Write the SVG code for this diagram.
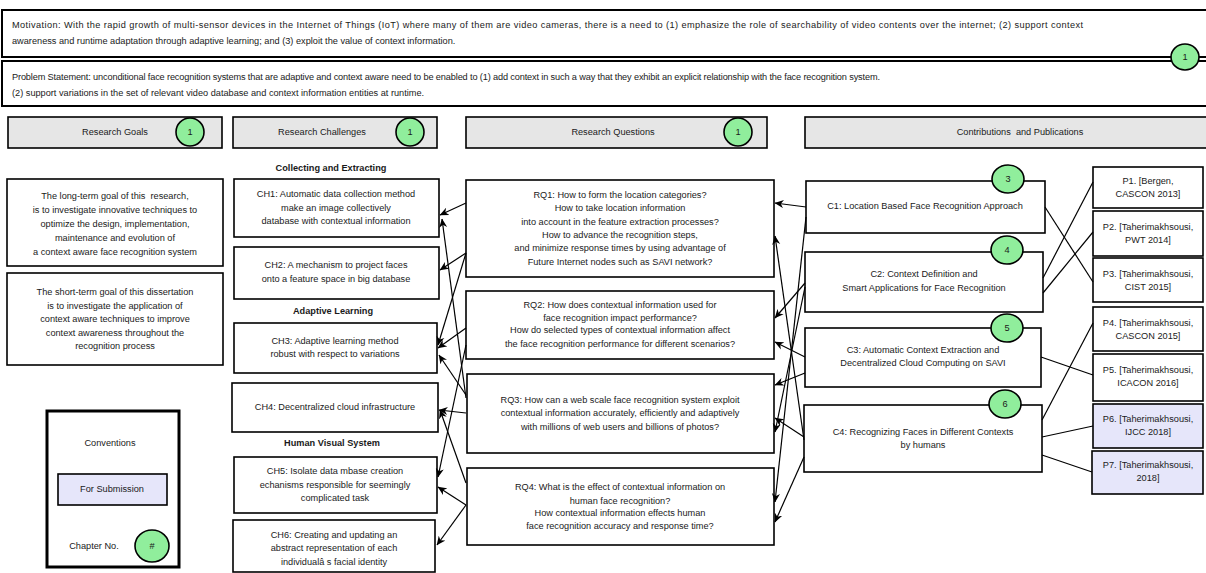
<svg xmlns="http://www.w3.org/2000/svg" width="1206" height="573" viewBox="0 0 1206 573">
<defs>
<style>
text{font-family:"Liberation Sans",Arial,sans-serif;font-size:9.2px;fill:#1a1a1a;text-anchor:middle}
.l{text-anchor:start}
.b{font-weight:bold}
.pre{white-space:pre}
.box{fill:#fff;stroke:#000;stroke-width:1.6}
.top{fill:#fff;stroke:#000;stroke-width:2}
.hdr{fill:#e6e6e6;stroke:#000;stroke-width:1.6}
.sub{fill:#e6e6fa;stroke:#000;stroke-width:1.6}
.ch{fill:#90ee9c;stroke:#000;stroke-width:1.6}
.con path{fill:none;stroke:#000;stroke-width:1.2}
.arr{marker-end:url(#ah)}
</style>
<marker id="ah" viewBox="0 0 10 10" refX="9.5" refY="5" markerWidth="9" markerHeight="9" markerUnits="userSpaceOnUse" orient="auto">
<path d="M0,0.5 L10,5 L0,9.5 L3,5 Z" fill="#000"/>
</marker>
</defs>

<g id="motivation">
<rect class="top" x="2" y="10" width="1210" height="47"/>
<text class="l" x="12" y="28" textLength="1071" lengthAdjust="spacing">Motivation: With the rapid growth of multi-sensor devices in the Internet of Things (IoT) where many of them are video cameras, there is a need to (1) emphasize the role of searchability of video contents over the internet; (2) support context</text>
<text class="l" x="12" y="44">awareness and runtime adaptation through adaptive learning; and (3) exploit the value of context information.</text>
</g>
<g id="problem">
<rect class="top" x="2" y="61" width="1210" height="45"/>
<text class="l" x="12" y="80" textLength="868" lengthAdjust="spacing">Problem Statement: unconditional face recognition systems that are adaptive and context aware need to be enabled to (1) add context in such a way that they exhibit an explicit relationship with the face recognition system.</text>
<text class="l" x="12" y="96">(2) support variations in the set of relevant video database and context information entities at runtime.</text>
</g>
<g id="chapter-top">
<ellipse class="ch" cx="1185" cy="57" rx="14" ry="13"/>
<text x="1185" y="60">1</text>
</g>

<g id="hdr-goals">
<rect class="hdr" x="8" y="117" width="214" height="31"/>
<text x="115" y="134.5">Research Goals</text>
<ellipse class="ch" cx="190" cy="132" rx="14" ry="14"/>
<text x="190" y="135">1</text>
</g>
<g id="hdr-challenges">
<rect class="hdr" x="233" y="117" width="204" height="31"/>
<text x="322" y="134.5">Research Challenges</text>
<ellipse class="ch" cx="410" cy="132" rx="14" ry="14"/>
<text x="410" y="135">1</text>
</g>
<g id="hdr-questions">
<rect class="hdr" x="466" y="117" width="301" height="31"/>
<text x="613" y="134.5">Research Questions</text>
<ellipse class="ch" cx="738" cy="132" rx="14" ry="14"/>
<text x="738" y="135">1</text>
</g>
<g id="hdr-contrib">
<rect class="hdr" x="805" y="117" width="410" height="31"/>
<text class="pre" x="1020" y="134.5">Contributions  and Publications</text>
</g>

<g id="goal-long">
<rect class="box" x="7" y="179" width="216" height="87"/>
<text class="pre" x="115" y="199">The long-term goal of this  research,</text>
<text x="115" y="213">is to investigate innovative techniques to</text>
<text x="115" y="227">optimize the design, implementation,</text>
<text x="115" y="241">maintenance and evolution of</text>
<text x="115" y="255">a context aware face recognition system</text>
</g>
<g id="goal-short">
<rect class="box" x="7" y="273" width="216" height="92"/>
<text x="115" y="295">The short-term goal of this dissertation</text>
<text x="115" y="309">is to investigate the application of</text>
<text x="115" y="322">context aware techniques to improve</text>
<text x="115" y="336">context awareness throughout the</text>
<text x="115" y="349">recognition process</text>
</g>

<g id="lbl-collecting"><text class="b" x="331" y="171">Collecting and Extracting</text></g>
<g id="ch1">
<rect class="box" x="234" y="179" width="205" height="58"/>
<text x="336" y="197">CH1: Automatic data collection method</text>
<text x="336" y="211">make an image collectively</text>
<text x="336" y="224">database with contextual information</text>
</g>
<g id="ch2">
<rect class="box" x="234" y="247" width="205" height="52"/>
<text x="336" y="268">CH2: A mechanism to project faces</text>
<text x="336" y="282">onto a feature space in big database</text>
</g>
<g id="lbl-adaptive"><text class="b" x="333" y="314">Adaptive Learning</text></g>
<g id="ch3">
<rect class="box" x="234" y="323" width="203" height="50"/>
<text x="335" y="344">CH3: Adaptive learning method</text>
<text x="335" y="357">robust with respect to variations</text>
</g>
<g id="ch4">
<rect class="box" x="232" y="383" width="206" height="49"/>
<text x="335" y="410">CH4: Decentralized cloud infrastructure</text>
</g>
<g id="lbl-hvs"><text class="b" x="332" y="446">Human Visual System</text></g>
<g id="ch5">
<rect class="box" x="234" y="457" width="203" height="56"/>
<text x="335" y="474">CH5: Isolate data mbase creation</text>
<text x="335" y="488">echanisms responsible for seemingly</text>
<text x="335" y="501">complicated task</text>
</g>
<g id="ch6">
<rect class="box" x="233" y="520" width="202" height="52"/>
<text x="334" y="538">CH6: Creating and updating an</text>
<text x="334" y="551">abstract representation of each</text>
<text x="334" y="565">individualâ s facial identity</text>
</g>

<g id="rq1">
<rect class="box" x="466" y="180" width="308" height="97"/>
<text x="620" y="198">RQ1: How to form the location categories?</text>
<text x="620" y="211">How to take location information</text>
<text x="620" y="225">into account in the feature extraction processes?</text>
<text x="620" y="238">How to advance the recognition steps,</text>
<text x="620" y="251">and minimize response times by using advantage of</text>
<text x="620" y="265">Future Internet nodes such as SAVI network?</text>
</g>
<g id="rq2">
<rect class="box" x="466" y="291" width="308" height="68"/>
<text x="620" y="308">RQ2: How does contextual information used for</text>
<text x="620" y="321">face recognition impact performance?</text>
<text x="620" y="333">How do selected types of contextual information affect</text>
<text x="620" y="347">the face recognition performance for different scenarios?</text>
</g>
<g id="rq3">
<rect class="box" x="467" y="374" width="307" height="79"/>
<text x="620" y="403">RQ3: How can a web scale face recognition system exploit</text>
<text x="620" y="416">contextual information accurately, efficiently and adaptively</text>
<text x="620" y="430">with millions of web users and billions of photos?</text>
</g>
<g id="rq4">
<rect class="box" x="467" y="468" width="307" height="77"/>
<text x="620" y="490">RQ4: What is the effect of contextual information on</text>
<text x="620" y="504">human face recognition?</text>
<text x="620" y="516">How contextual information effects human</text>
<text x="620" y="529">face recognition accuracy and response time?</text>
</g>

<g id="c1">
<rect class="box" x="806" y="181" width="239" height="52"/>
<text x="925" y="209">C1: Location Based Face Recognition Approach</text>
<ellipse class="ch" cx="1008" cy="179" rx="16" ry="14"/>
<text x="1008" y="182">3</text>
</g>
<g id="c2">
<rect class="box" x="805" y="252" width="238" height="60"/>
<text x="924" y="277">C2: Context Definition and</text>
<text x="924" y="291">Smart Applications for Face Recognition</text>
<ellipse class="ch" cx="1007" cy="250" rx="16" ry="14"/>
<text x="1007" y="253">4</text>
</g>
<g id="c3">
<rect class="box" x="805" y="328" width="236" height="59"/>
<text x="923" y="353">C3: Automatic Context Extraction and</text>
<text x="923" y="366">Decentralized Cloud Computing on SAVI</text>
<ellipse class="ch" cx="1007" cy="328" rx="16" ry="14"/>
<text x="1007" y="331">5</text>
</g>
<g id="c4">
<rect class="box" x="804" y="405" width="238" height="67"/>
<text x="923" y="435">C4: Recognizing Faces in Different Contexts</text>
<text x="923" y="448">by humans</text>
<ellipse class="ch" cx="1005" cy="404" rx="16" ry="14"/>
<text x="1005" y="407">6</text>
</g>

<g id="p1"><rect class="box" x="1093" y="167" width="110" height="41"/><text x="1148" y="184">P1. [Bergen,</text><text x="1148" y="197">CASCON 2013]</text></g>
<g id="p2"><rect class="box" x="1093" y="211" width="110" height="45"/><text x="1148" y="230">P2. [Taherimakhsousi,</text><text x="1148" y="243">PWT 2014]</text></g>
<g id="p3"><rect class="box" x="1093" y="258" width="110" height="44"/><text x="1148" y="277">P3. [Taherimakhsousi,</text><text x="1148" y="290">CIST 2015]</text></g>
<g id="p4"><rect class="box" x="1093" y="307" width="110" height="44"/><text x="1148" y="326">P4. [Taherimakhsousi,</text><text x="1148" y="339">CASCON 2015]</text></g>
<g id="p5"><rect class="box" x="1093" y="354" width="110" height="47"/><text x="1148" y="373">P5. [Taherimakhsousi,</text><text x="1148" y="386">ICACON 2016]</text></g>
<g id="p6"><rect class="sub" x="1093" y="404" width="110" height="44"/><text x="1148" y="422">P6. [Taherimakhsousi,</text><text x="1148" y="435">IJCC 2018]</text></g>
<g id="p7"><rect class="sub" x="1092" y="451" width="111" height="43"/><text x="1148" y="468">P7. [Taherimakhsousi,</text><text x="1148" y="481">2018]</text></g>

<g id="conventions">
<rect x="47" y="411" width="132" height="156" fill="#fff" stroke="#000" stroke-width="3"/>
<text x="110" y="446">Conventions</text>
<rect class="sub" x="58" y="474" width="109" height="31"/>
<text x="112" y="492">For Submission</text>
<text x="94" y="549">Chapter No.</text>
<ellipse class="ch" cx="152" cy="546" rx="17" ry="16"/>
<text x="152" y="549">#</text>
</g>

<g id="connectors" class="con">
<path class="arr" d="M466,203 L440,215"/>
<path class="arr" d="M466,398 L442,219"/>
<path class="arr" d="M466,253 L440,270"/>
<path class="arr" d="M466,253 L438,345"/>
<path class="arr" d="M466,328 L438,348"/>
<path class="arr" d="M466,395 L439,355"/>
<path class="arr" d="M466,345 L438,477"/>
<path class="arr" d="M466,413 L439,410"/>
<path class="arr" d="M466,483 L440,410"/>
<path class="arr" d="M466,505 L438,487"/>
<path class="arr" d="M466,505 L437,545"/>

<path class="arr" d="M806,207 L775,203"/>
<path class="arr" d="M804,440 L775,236"/>
<path class="arr" d="M805,283 L775,318"/>
<path class="arr" d="M805,357 L775,342"/>
<path class="arr" d="M805,373 L775,385"/>
<path class="arr" d="M804,437 L775,418"/>
<path class="arr" d="M805,287 L775,432"/>
<path class="arr" d="M806,217 L775,502"/>
<path class="arr" d="M804,457 L775,522"/>

<path d="M1045,207 L1093,282"/>
<path d="M1043,278 L1093,182"/>
<path d="M1043,293 L1093,232"/>
<path d="M1042,420 L1093,323"/>
<path d="M1041,357 L1093,375"/>
<path d="M1042,437 L1093,426"/>
<path d="M1042,455 L1092,472"/>
</g>
</svg>
